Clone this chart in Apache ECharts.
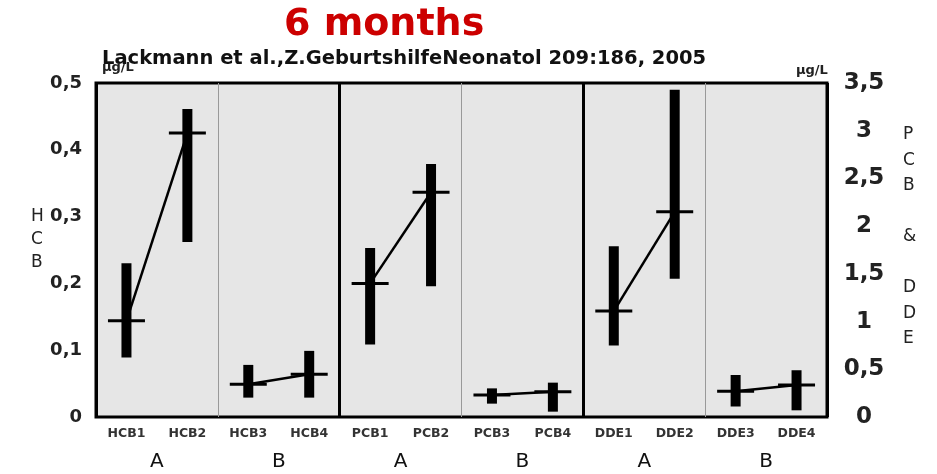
<!DOCTYPE html>
<html>
<head>
<meta charset="utf-8">
<script src="https://cdn.jsdelivr.net/npm/echarts@6/dist/echarts.min.js"></script>
<style>html,body{margin:0;padding:0;background:#fff}#c{width:937px;height:474px}</style>
</head>
<body>
<div id="c"></div>
<script>
// ---- data ----
const categories = ['HCB1','HCB2','HCB3','HCB4','PCB1','PCB2','PCB3','PCB4','DDE1','DDE2','DDE3','DDE4'];
const groups = ['A','B','A','B','A','B'];
const hcbMid  = [0.144, 0.425, 0.049, 0.064];
const hcbLow  = [0.089, 0.262, 0.029, 0.029];
const hcbHigh = [0.230, 0.461, 0.078, 0.099];
const pcbMid  = [1.40, 2.355, 0.23, 0.265];
const pcbLow  = [0.76, 1.37, 0.14, 0.056];
const pcbHigh = [1.77, 2.65, 0.30, 0.36];
const ddeMid  = [1.11, 2.15, 0.27, 0.335];
const ddeLow  = [0.75, 1.45, 0.11, 0.07];
const ddeHigh = [1.79, 3.43, 0.44, 0.49];
const leftTicks = [0, 0.5, 0.1];   // min, max, interval
const rightTicks = [0, 3.5, 0.5];

const FONT = 'DejaVu Sans';
const comma = v => String(+v.toFixed(2)).replace('.', ',');

const blocks = [
  {mid: hcbMid, low: hcbLow, high: hcbHigh, axis: 0, start: 0},
  {mid: pcbMid, low: pcbLow, high: pcbHigh, axis: 1, start: 4},
  {mid: ddeMid, low: ddeLow, high: ddeHigh, axis: 1, start: 8}
];
const series = [];
function rangeRender(params, api) {
  const i = api.value(0);
  const top = api.coord([i, api.value(2)]);
  const bot = api.coord([i, api.value(1)]);
  const w = 10;
  return {type: 'rect', shape: {x: top[0] - w/2, y: top[1], width: w, height: bot[1] - top[1]},
          style: {fill: '#000'}};
}
blocks.forEach(b => {
  const rdata = b.mid.map((_, k) => [b.start + k, b.low[k], b.high[k]]);
  series.push({type: 'custom', xAxisIndex: 0, yAxisIndex: b.axis, renderItem: rangeRender,
               data: rdata, encode: {x: 0, y: [1, 2]}, z: 3, silent: true});
  for (let p = 0; p < 2; p++) {
    const d = categories.map(() => null);
    d[b.start + 2*p] = b.mid[2*p];
    d[b.start + 2*p + 1] = b.mid[2*p + 1];
    series.push({type: 'line', xAxisIndex: 0, yAxisIndex: b.axis, data: d,
                 symbol: 'rect', symbolSize: [37, 3], showSymbol: true,
                 itemStyle: {color: '#000'}, lineStyle: {color: '#000', width: 2.5},
                 z: 4, silent: true});
  }
});

const chart = echarts.init(document.getElementById('c'), null, {renderer: 'canvas'});
chart.setOption({
  animation: false,
  backgroundColor: '#fff',
  title: [
    {text: '6 months', left: 279, top: 1, textStyle: {fontFamily: FONT, fontWeight: 'bold', fontSize: 38, color: '#cc0000'}},
    {text: 'µg/L', left: 97, top: 56, textStyle: {fontFamily: FONT, fontWeight: 'bold', fontSize: 13, color: '#222'}},
    {text: 'µg/L', left: 791, top: 59, textStyle: {fontFamily: FONT, fontWeight: 'bold', fontSize: 13, color: '#222'}},
    {text: 'Lackmann et al.,Z.GeburtshilfeNeonatol 209:186, 2005', left: 97, top: 44,
     textStyle: {fontFamily: FONT, fontWeight: 'bold', fontSize: 19.5, color: '#111'}}
  ],
  graphic: [
    {type: 'text', left: 31, top: 205, style: {text: 'H\nC\nB', font: '17px "DejaVu Sans"', fill: '#222', lineHeight: 23, align: 'center'}},
    {type: 'text', left: 903, top: 122, style: {text: 'P\nC\nB\n\n&\n\nD\nD\nE', font: '17px "DejaVu Sans"', fill: '#222', lineHeight: 25.5, align: 'center'}}
  ],
  grid: {left: 96, right: 110, top: 83, bottom: 57, show: true, backgroundColor: '#e6e6e6',
         borderColor: '#000', borderWidth: 3},
  xAxis: [
    {type: 'category', data: categories, position: 'bottom',
     axisLine: {show: false}, axisTick: {show: false}, splitLine: {show: false},
     axisLabel: {fontFamily: FONT, fontWeight: 'bold', fontSize: 12.5, color: '#333', margin: 10}},
    {type: 'category', data: groups, position: 'bottom', offset: 35,
     axisLine: {show: false}, axisTick: {show: false}, splitLine: {show: false},
     axisLabel: {fontFamily: FONT, fontSize: 20, color: '#111', margin: 0}},
    {type: 'value', min: 0, max: 12, interval: 2, position: 'top',
     axisLine: {show: false}, axisTick: {show: false}, axisLabel: {show: false},
     splitLine: {show: true, lineStyle: {color: '#999', width: 1}}},
    {type: 'value', min: 0, max: 12, interval: 4, position: 'top',
     axisLine: {show: false}, axisTick: {show: false}, axisLabel: {show: false},
     splitLine: {show: true, lineStyle: {color: '#000', width: 3}}}
  ],
  yAxis: [
    {type: 'value', min: leftTicks[0], max: leftTicks[1], interval: leftTicks[2], position: 'left',
     axisLine: {show: false}, axisTick: {show: false}, splitLine: {show: false},
     axisLabel: {fontFamily: FONT, fontWeight: 'bold', fontSize: 18, color: '#222', margin: 14, formatter: comma}},
    {type: 'value', min: rightTicks[0], max: rightTicks[1], interval: rightTicks[2], position: 'right',
     axisLine: {show: false}, axisTick: {show: false}, splitLine: {show: false},
     axisLabel: {fontFamily: FONT, fontWeight: 'bold', fontSize: 23, color: '#222', margin: 37, align: 'center', formatter: comma}}
  ],
  series: series
});
</script>
</body>
</html>
